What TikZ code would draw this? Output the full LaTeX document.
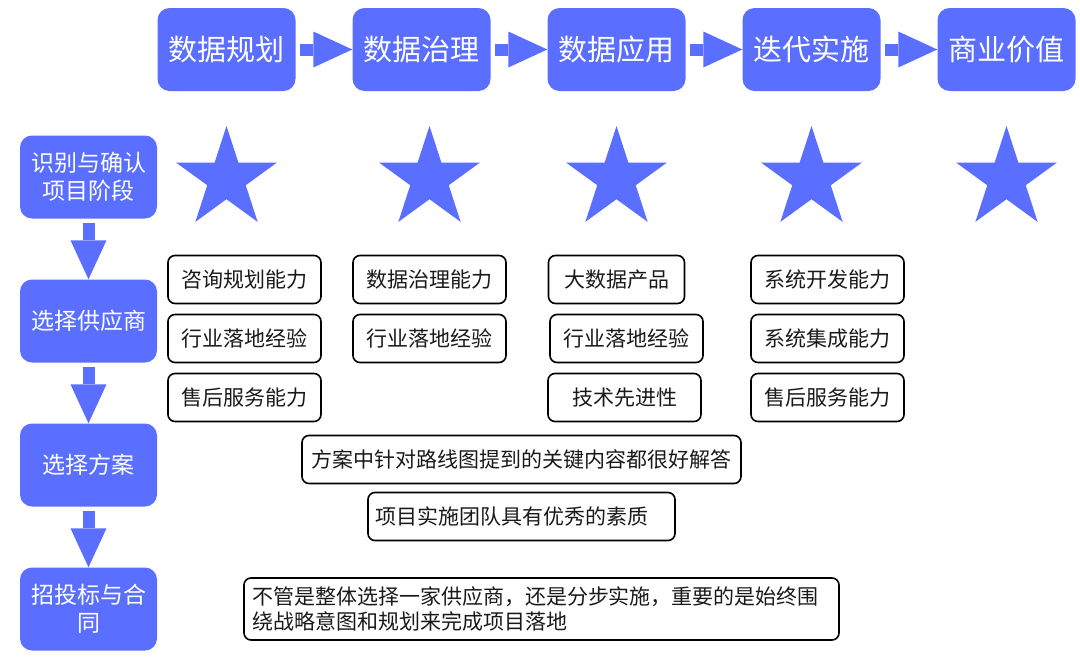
\documentclass[tikz,border=0pt]{standalone}
\usepackage{fontspec}
\newfontfamily\cjk{Noto Sans CJK SC}
\usepackage{tikz}
\usetikzlibrary{shapes.geometric, arrows, arrows.meta}
\definecolor{flowblue}{HTML}{5A6FFF}
\tikzstyle{phase} = [rectangle, rounded corners=12pt, minimum width=138pt, minimum height=83pt, text centered, fill=flowblue, text=white, font=\cjk\fontsize{29}{34}\selectfont]
\tikzstyle{stage} = [rectangle, rounded corners=12pt, minimum width=137pt, minimum height=83pt, text centered, align=center, fill=flowblue, text=white, font=\cjk\fontsize{23}{28}\selectfont]
\tikzstyle{feature} = [rectangle, rounded corners=7pt, minimum width=153pt, minimum height=48pt, text centered, draw=black, line width=1.6pt, text=black!90, font=\cjk\fontsize{21}{25.5}\selectfont]
\tikzstyle{bigstar} = [star, star points=5, star point ratio=2.618, minimum size=106pt, inner sep=0pt, fill=flowblue]
\tikzstyle{blockarrow} = [line width=12pt, draw=flowblue, -{Triangle[length=39pt, width=36pt, line width=0pt]}, shorten <=4pt]

\begin{document}
\begin{tikzpicture}[x=1pt, y=-1pt, node distance=195pt]
\useasboundingbox (0,0) rectangle (1080,667);
\node (plan) [phase] at (226.5,49.5) {数据规划};
\node (govern) [phase, right of=plan] {数据治理};
\node (apply) [phase, right of=govern] {数据应用};
\node (iterate) [phase, right of=apply] {迭代实施};
\node (value) [phase, right of=iterate] {商业价值};
\draw [blockarrow] (plan) -- (govern);
\draw [blockarrow] (govern) -- (apply);
\draw [blockarrow] (apply) -- (iterate);
\draw [blockarrow] (iterate) -- (value);

\node (identify) [stage, below of=plan, xshift=-138pt, yshift=67.5pt] {识别与确认\\项目阶段};
\node (vendor) [stage, below of=identify, yshift=51pt] {选择供应商};
\node (choose) [stage, below of=vendor, yshift=51pt] {选择方案};
\node (bid) [stage, below of=choose, yshift=51pt] {招投标与合\\同};
\draw [blockarrow] (identify) -- (vendor);
\draw [blockarrow] (vendor) -- (choose);
\draw [blockarrow] (choose) -- (bid);

\node (starplan) [bigstar, below of=plan, yshift=65.5pt] {};
\node (stargovern) [bigstar, below of=govern, xshift=8pt, yshift=65.5pt] {};
\node (starapply) [bigstar, below of=apply, yshift=65.5pt] {};
\node (stariterate) [bigstar, below of=iterate, yshift=65.5pt] {};
\node (starvalue) [bigstar, below of=value, yshift=65.5pt] {};

\begin{scope}[node distance=59pt]
\node (consult) [feature, below of=starplan, xshift=18pt, yshift=-41.5pt] {咨询规划能力};
\node (industryA) [feature, below of=consult] {行业落地经验};
\node (serviceA) [feature, below of=industryA] {售后服务能力};

\node (governcap) [feature, below of=stargovern, yshift=-41.5pt] {数据治理能力};
\node (industryB) [feature, below of=governcap] {行业落地经验};

\node (product) [feature, below of=starapply, yshift=-41.5pt, minimum width=136pt] {大数据产品};
\node (industryC) [feature, below of=product, xshift=10pt] {行业落地经验};
\node (techC) [feature, below of=industryC, xshift=-2pt] {技术先进性};

\node (develop) [feature, below of=stariterate, xshift=16pt, yshift=-41.5pt] {系统开发能力};
\node (integrate) [feature, below of=develop] {系统集成能力};
\node (serviceD) [feature, below of=integrate] {售后服务能力};
\end{scope}

\node (roadmap) [feature, right of=choose, xshift=238pt, yshift=5.5pt, minimum width=439pt] {方案中针对路线图提到的关键内容都很好解答};
\node (team) [feature, below of=roadmap, yshift=138pt, text width=293pt, inner xsep=7pt, align=left] {项目实施团队具有优秀的素质};
\node (advice) [feature, right of=bid, xshift=258pt, minimum height=62pt, text width=579pt, inner xsep=8pt, align=left] {不管是整体选择一家供应商，还是分步实施，重要的是始终围\\绕战略意图和规划来完成项目落地};

\end{tikzpicture}
\end{document}
